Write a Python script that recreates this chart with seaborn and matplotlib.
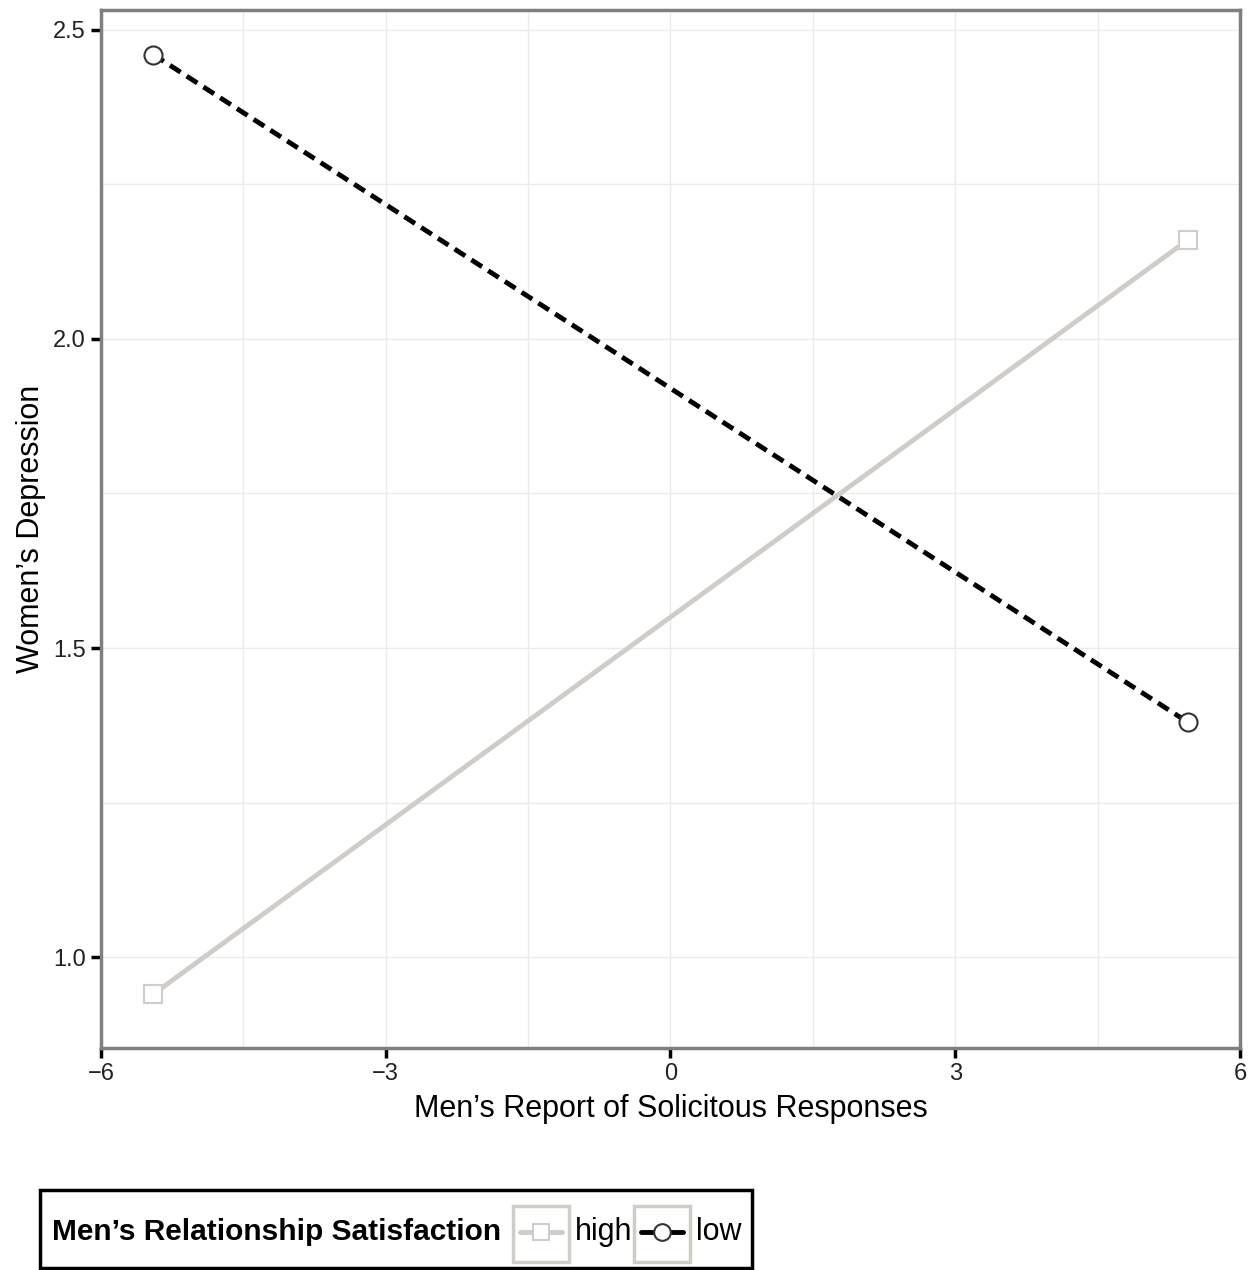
import numpy as np
import pandas as pd
import matplotlib
matplotlib.use("Agg")
import matplotlib.pyplot as plt
from matplotlib.lines import Line2D
from matplotlib.patches import Rectangle
import seaborn as sns

# Data
solicitous = [-5.45, 5.45]
depression_high = [0.94, 2.16]
depression_low = [2.46, 1.38]
groups = ["high", "low"]
legend_title = "Men\u2019s Relationship Satisfaction"

df = pd.DataFrame({
    "x": solicitous * 2,
    "y": depression_high + depression_low,
    "sat": [groups[0]] * 2 + [groups[1]] * 2,
})

sns.set_style("white")
plt.rcParams['font.family'] = ['Liberation Sans', 'DejaVu Sans']

W, H = 1254, 1270
fig = plt.figure(figsize=(W / 100, H / 100), dpi=100)
ax = fig.add_axes([101 / W, 1 - 1048 / H, 1139 / W, 1038 / H])

grid_col = "#ebebeb"
ax.set_xticks([-4.5, -1.5, 1.5, 4.5], minor=True)
ax.set_yticks([1.25, 1.75, 2.25], minor=True)
ax.grid(True, which="both", color=grid_col, linewidth=1.0)
ax.set_axisbelow(True)

colors = {"high": "#d0cdc8", "low": "black"}
edge = {"high": "#d0cdc8", "low": "#333333"}
markers = {"high": "s", "low": "o"}
sns.lineplot(data=df, x="x", y="y", hue="sat", style="sat",
             palette=colors, markers=markers,
             dashes={"high": "", "low": (2.6, 1.5)}, ax=ax, legend=False,
             linewidth=3.5, markersize=13, markerfacecolor="white",
             markeredgewidth=1.5)
for line, g in zip(ax.get_lines(), groups):
    line.set_markeredgecolor(edge[g])

ax.set_xlim(-6, 6)
ax.set_ylim(0.853, 2.532)
ax.set_xticks([-6, -3, 0, 3, 6])
ax.set_xticklabels(["\u22126", "\u22123", "0", "3", "6"])
ax.set_yticks([1.0, 1.5, 2.0, 2.5])
ax.set_yticklabels(["1.0", "1.5", "2.0", "2.5"])
ax.tick_params(axis="both", which="major", direction="out", length=7, width=2.5,
               color="black", labelsize=17, labelcolor="#222222",
               bottom=True, left=True, pad=4)
ax.tick_params(axis="both", which="minor", length=0)
for sp in ax.spines.values():
    sp.set_color("#7f7f7f")
    sp.set_linewidth(2.5)

ax.set_xlabel("Men\u2019s Report of Solicitous Responses", fontsize=22,
              labelpad=6, color="black")
ax.set_ylabel("Women\u2019s Depression", fontsize=22, labelpad=5, color="black")

# legend drawn by hand in figure pixels, laid out horizontally
def fx(px):
    return px / W

def fy(py):
    return 1 - py / H

fig.patches.append(Rectangle((fx(40), fy(1268)), fx(712), 78 / H,
                             transform=fig.transFigure, fill=False,
                             edgecolor="black", linewidth=2.5))
fig.text(fx(52), fy(1232), legend_title, fontsize=21.5, fontweight="bold",
         va="center", ha="left", color="black")
key_x = {"high": 513, "low": 634}
for g in groups:
    x0 = key_x[g]
    fig.patches.append(Rectangle((fx(x0), fy(1262)), fx(56), 56 / H,
                                 transform=fig.transFigure, fill=False,
                                 edgecolor="#d0cdc8", linewidth=2.5))
    fig.lines.append(Line2D([fx(x0 + 7), fx(x0 + 49)], [fy(1232)] * 2,
                            transform=fig.transFigure, color=colors[g],
                            linewidth=3.5, marker=None))
    fig.lines.append(Line2D([fx(x0 + 28)], [fy(1232)],
                            transform=fig.transFigure, linestyle="none",
                            marker=markers[g], markersize=12,
                            markerfacecolor="white", markeredgecolor=edge[g],
                            markeredgewidth=1.5))
    fig.text(fx(x0 + 62), fy(1232), g, fontsize=22, va="center", ha="left",
             color="black")

fig.savefig("out.png", dpi=100)
